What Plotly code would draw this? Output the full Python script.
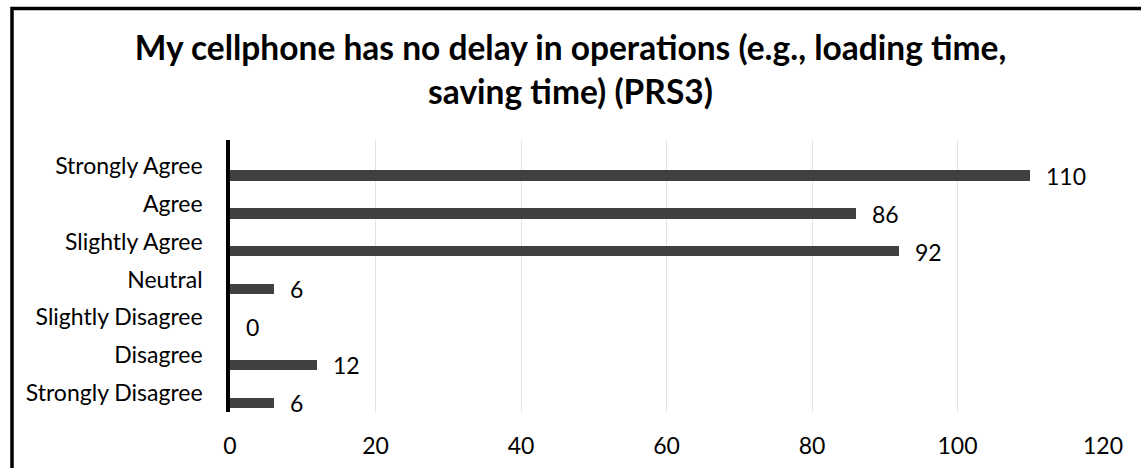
import plotly.graph_objects as go

categories = ["Strongly Agree", "Agree", "Slightly Agree", "Neutral",
              "Slightly Disagree", "Disagree", "Strongly Disagree"]
counts = [110, 86, 92, 6, 0, 12, 6]
x_ticks = [0, 20, 40, 60, 80, 100, 120]
title_text = "My cellphone has no delay in operations (e.g., loading time,<br>saving time) (PRS3)"

W, H = 1141, 468
L, R, T, B = 230, 38, 140, 56
pw, ph = W - L - R, H - T - B

FONT = "Lato"
BAR_COLOR = "#404040"
BAR_OFFSET = 0.12
BAR_WIDTH = 0.27

fig = go.Figure()
fig.add_trace(go.Bar(
    x=counts, y=categories, orientation="h",
    marker=dict(color=BAR_COLOR, line=dict(width=0)),
    width=BAR_WIDTH, offset=BAR_OFFSET,
    hoverinfo="x+y", showlegend=False,
))

row_px = ph / len(categories)
annotations = []
for c, v in zip(categories, counts):
    annotations.append(dict(
        x=v, y=c, xref="x", yref="y", text=str(v), showarrow=False,
        xanchor="left", yanchor="middle", xshift=14,
        yshift=-(BAR_OFFSET + BAR_WIDTH / 2) * row_px,
        font=dict(family=FONT, size=23, color="#000000"),
    ))


def px_x(p):
    return (p - L) / pw


def px_y(p):
    return (H - B - p) / ph


shapes = [dict(type="rect", xref="paper", yref="paper",
               x0=px_x(12), x1=px_x(1170), y0=px_y(8.5), y1=px_y(490),
               line=dict(color="#000000", width=3.5), fillcolor="rgba(0,0,0,0)",
               layer="above")]

fig.update_layout(
    width=W, height=H,
    margin=dict(l=L, r=R, t=T, b=B, autoexpand=False),
    paper_bgcolor="white", plot_bgcolor="white",
    font=dict(family=FONT, size=23, color="#000000"),
    title=dict(text=title_text, x=0.5, xref="container", xanchor="center",
               y=1 - 60 / H, yref="container", yanchor="top",
               font=dict(family=FONT, size=33.5, color="#000000", weight="bold")),
    xaxis=dict(range=[0, 120], tickvals=x_ticks, showgrid=True,
               gridcolor="#e3e3e3", gridwidth=1, zeroline=False,
               showline=False, ticks="", ticklabelstandoff=18,
               tickfont=dict(family=FONT, size=23, color="#000000"),
               fixedrange=True),
    yaxis=dict(type="category", categoryorder="array", categoryarray=categories,
               autorange="reversed", showgrid=False, zeroline=False,
               showline=True, linecolor="#000000", linewidth=3.5,
               ticks="", ticklabelstandoff=19,
               tickfont=dict(family=FONT, size=23, color="#000000"),
               fixedrange=True),
    annotations=annotations,
    shapes=shapes,
    bargap=0,
)

fig.write_html("out.html",
               config={"displayModeBar": False},
               post_script="document.body.style.margin='0';document.body.style.overflow='hidden';")
